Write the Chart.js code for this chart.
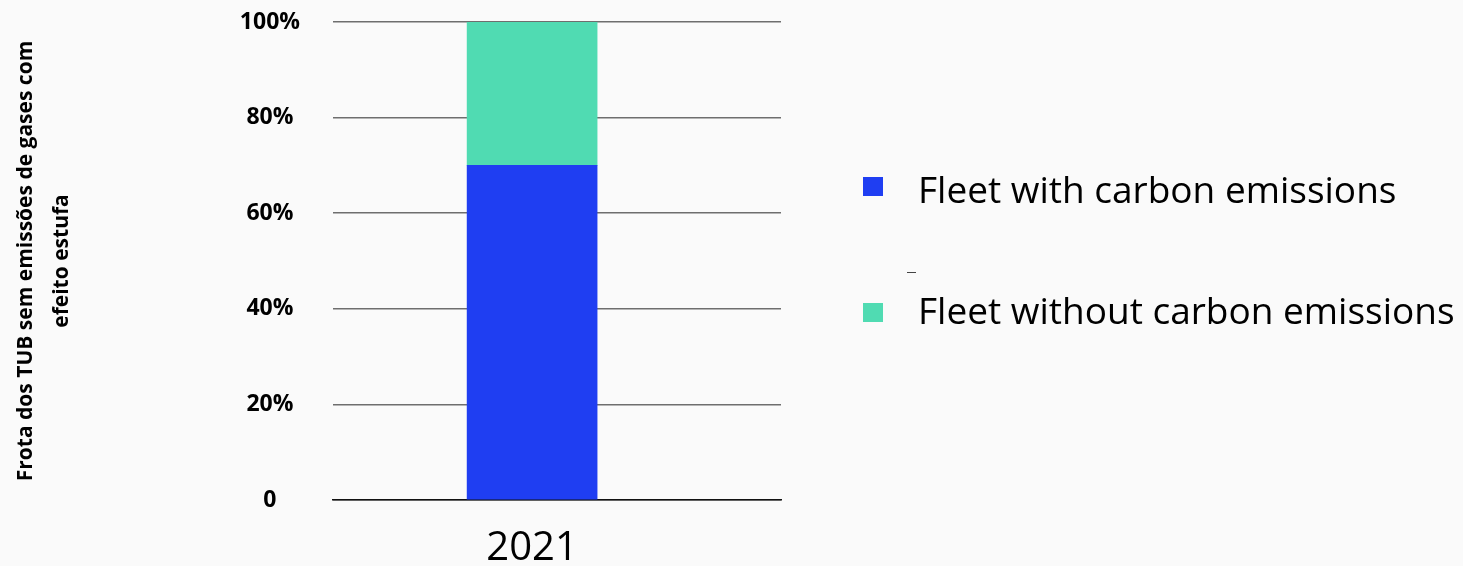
<!DOCTYPE html>
<html>
<head>
<meta charset="utf-8">
<script src="https://cdn.jsdelivr.net/npm/chart.js@4.4.0/dist/chart.umd.min.js"></script>
<style>
  body { margin: 0; background: #fafafa; }
  #wrap { position: relative; width: 1463px; height: 566px; }
  #legend { position: absolute; left: 863px; top: 0; font-family: "Open Sans", sans-serif; color: #000; }
  .box { position: absolute; left: 0; width: 20px; height: 19px; }
  .label { position: absolute; left: 55px; font-size: 37px; line-height: 37px; white-space: nowrap; }
  #dash { position: absolute; left: 44px; top: 272px; width: 9px; border-top: 1px solid #444; }
</style>
</head>
<body>
<div id="wrap">
  <canvas id="c" width="1463" height="566"></canvas>
  <div id="legend"></div>
</div>
<script>
const categories = ['2021'];
const withCarbon = [70];
const withoutCarbon = [30];
const seriesNames = ['Fleet with carbon emissions', 'Fleet without carbon emissions'];
const seriesColors = ['#1f3ef2', '#50dbb2'];
const yTicks = [0, 20, 40, 60, 80, 100];
const yTitle = ['Frota dos TUB sem emissões de gases com', 'efeito estufa'];

const ctx = document.getElementById('c').getContext('2d');
const chart = new Chart(ctx, {
  type: 'bar',
  data: {
    datasets: [
      {
        label: seriesNames[0],
        data: categories.map((c, i) => ({ x: i, y: withCarbon[i] })),
        backgroundColor: seriesColors[0],
        barThickness: 130,
      },
      {
        label: seriesNames[1],
        data: categories.map((c, i) => ({ x: i, y: withoutCarbon[i] })),
        backgroundColor: seriesColors[1],
        barThickness: 130,
      },
    ],
  },
  options: {
    responsive: false,
    animation: false,
    layout: { padding: { top: 22, right: 682, bottom: 0, left: 0 } },
    plugins: {
      legend: { display: false }, // legend is drawn in html
      tooltip: { enabled: false },
    },
    scales: {
      x: {
        type: 'linear',
        stacked: true,
        offset: false,
        min: -1,
        max: 1.25,
        afterBuildTicks: (scale) => {
          scale.ticks = categories.map((c, i) => ({ value: i }));
        },
        afterFit: (scale) => { scale.height = 66; },
        ticks: {
          padding: 17,
          autoSkip: false,
          maxRotation: 0,
          color: '#000',
          font: { family: 'Open Sans', size: 40 },
          callback: (v) => categories[v] ?? '',
        },
        grid: { display: false },
        border: { color: '#111', width: 1.5 },
      },
      y: {
        stacked: true,
        min: 0,
        max: 100,
        afterBuildTicks: (scale) => {
          scale.ticks = yTicks.map((v) => ({ value: v }));
        },
        afterFit: (scale) => {
          scale.width = 333;
          scale.paddingTop = 0;
          scale.paddingBottom = 0;
        },
        ticks: {
          padding: 33,
          crossAlign: 'center',
          color: '#000',
          font: { family: 'Open Sans', size: 23, weight: 'bold' },
          callback: (v) => (v === 0 ? '0' : v + '%'),
        },
        grid: { color: '#6e6e6e', lineWidth: 1.5, drawTicks: false },
        border: { display: false },
        title: {
          display: true,
          text: yTitle,
          color: '#000',
          font: { family: 'Open Sans', size: 21, weight: 'bold', lineHeight: 1.7 },
          padding: { top: 8, bottom: 0 },
        },
      },
    },
  },
});

// custom legend
const legend = document.getElementById('legend');
const boxTops = [177, 303];
const labelTops = [170, 291];
seriesNames.forEach((name, i) => {
  const box = document.createElement('div');
  box.className = 'box';
  box.style.top = boxTops[i] + 'px';
  box.style.background = seriesColors[i];
  legend.appendChild(box);
  const label = document.createElement('div');
  label.className = 'label';
  label.style.top = labelTops[i] + 'px';
  label.textContent = name;
  legend.appendChild(label);
});
const dash = document.createElement('div');
dash.id = 'dash';
legend.appendChild(dash);
</script>
</body>
</html>
